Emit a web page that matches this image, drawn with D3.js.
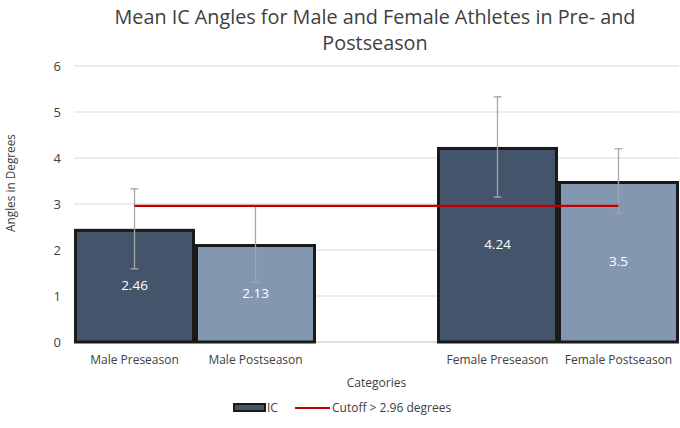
<!DOCTYPE html>
<html>
<head>
<meta charset="utf-8">
<script src="https://cdn.jsdelivr.net/npm/d3@7"></script>
<style>
body { margin: 0; background: #fff; }
svg { display: block; font-family: "Open Sans", Lato, sans-serif; }
</style>
</head>
<body>
<svg id="chart" width="680" height="428"></svg>
<script>
const categories = ["Male Preseason", "Male Postseason", "", "Female Preseason", "Female Postseason"];
const icValues = [2.46, 2.13, null, 4.24, 3.5];
const icErrors = [0.87, 0.83, null, 1.09, 0.70];
const cutoffValues = [2.96, 2.96, 2.96, 2.96, 2.96];
const barColors = ["#44546A", "#8497B0", null, "#44546A", "#8497B0"];
const yTicks = [0, 1, 2, 3, 4, 5, 6];

const svg = d3.select("#chart");
const margin = { left: 74, right: 679, top: 66, bottom: 342 };

const x = d3.scaleBand().domain(d3.range(categories.length)).range([margin.left, margin.right]).padding(0);
const y = d3.scaleLinear().domain([0, 6]).range([margin.bottom, margin.top]);

// gridlines
svg.append("g").selectAll("line").data(yTicks.filter(d => d > 0)).join("line")
  .attr("x1", margin.left).attr("x2", margin.right)
  .attr("y1", d => y(d)).attr("y2", d => y(d))
  .attr("stroke", "#d9d9d9").attr("stroke-width", 1);

// y tick labels
const yAxis = d3.axisLeft(y).tickValues(yTicks).tickSize(0).tickPadding(0).tickFormat(d3.format("d"));
const yg = svg.append("g").attr("transform", `translate(${margin.left - 13},0)`).call(yAxis);
yg.select(".domain").remove();
yg.selectAll("text").attr("font-size", 13).attr("fill", "#404040").attr("font-family", "'Open Sans', sans-serif");

// baseline
svg.append("line").attr("x1", margin.left).attr("x2", margin.right)
  .attr("y1", y(0)).attr("y2", y(0)).attr("stroke", "#bfbfbf").attr("stroke-width", 1);

// bars
const barData = icValues.map((v, i) => ({ i, v, e: icErrors[i], c: barColors[i] })).filter(d => d.v != null);
svg.append("g").selectAll("rect").data(barData).join("rect")
  .attr("x", d => x(d.i) + 1.5).attr("width", x.bandwidth() - 3)
  .attr("y", d => y(d.v) + 1.5).attr("height", d => y(0) - y(d.v) - 1.5)
  .attr("fill", d => d.c).attr("stroke", "#1a1a1a").attr("stroke-width", 3);

// error bars
const eg = svg.append("g").attr("stroke", "#a6a6a6").attr("stroke-width", 1.3);
barData.forEach(d => {
  const cx = x(d.i) + x.bandwidth() / 2;
  eg.append("line").attr("x1", cx).attr("x2", cx).attr("y1", y(d.v + d.e)).attr("y2", y(d.v - d.e));
  [d.v + d.e, d.v - d.e].forEach(t => {
    eg.append("line").attr("x1", cx - 4).attr("x2", cx + 4).attr("y1", y(t)).attr("y2", y(t));
  });
});

// cutoff line
const line = d3.line().x((d, i) => x(i) + x.bandwidth() / 2).y(d => y(d));
svg.append("path").datum(cutoffValues).attr("d", line)
  .attr("fill", "none").attr("stroke", "#C00000").attr("stroke-width", 2.2);

// data labels
svg.append("g").selectAll("text").data(barData).join("text")
  .attr("x", d => x(d.i) + x.bandwidth() / 2).attr("y", d => y(d.v / 2))
  .attr("dy", "0.35em").attr("text-anchor", "middle")
  .attr("fill", "#ffffff").attr("font-size", 13.5).text(d => d.v);

// x labels
svg.append("g").selectAll("text").data(categories).join("text")
  .attr("x", (d, i) => x(i) + x.bandwidth() / 2).attr("y", 364)
  .attr("text-anchor", "middle").attr("fill", "#404040").attr("font-size", 12).text(d => d);

// axis titles
svg.append("text").attr("x", (margin.left + margin.right) / 2).attr("y", 387)
  .attr("text-anchor", "middle").attr("fill", "#404040").attr("font-size", 12).text("Categories");
svg.append("text").attr("transform", `translate(15,183) rotate(-90)`)
  .attr("text-anchor", "middle").attr("fill", "#404040").attr("font-size", 11.8).text("Angles in Degrees");

// title
const title = svg.append("text").attr("text-anchor", "middle").attr("fill", "#404040").attr("font-size", 19.8);
title.append("tspan").attr("x", 375).attr("y", 24).text("Mean IC Angles for Male and Female Athletes in Pre- and");
title.append("tspan").attr("x", 375).attr("y", 50).text("Postseason");

// legend
const lg = svg.append("g");
lg.append("rect").attr("x", 234).attr("y", 404).attr("width", 31).attr("height", 7)
  .attr("fill", "#44546A").attr("stroke", "#1a1a1a").attr("stroke-width", 2);
lg.append("text").attr("x", 267).attr("y", 412).attr("fill", "#404040").attr("font-size", 12).text("IC");
lg.append("line").attr("x1", 295).attr("x2", 330).attr("y1", 408).attr("y2", 408)
  .attr("stroke", "#C00000").attr("stroke-width", 2.2);
lg.append("text").attr("x", 332).attr("y", 412).attr("fill", "#404040").attr("font-size", 12).text("Cutoff > 2.96 degrees");
</script>
</body>
</html>
